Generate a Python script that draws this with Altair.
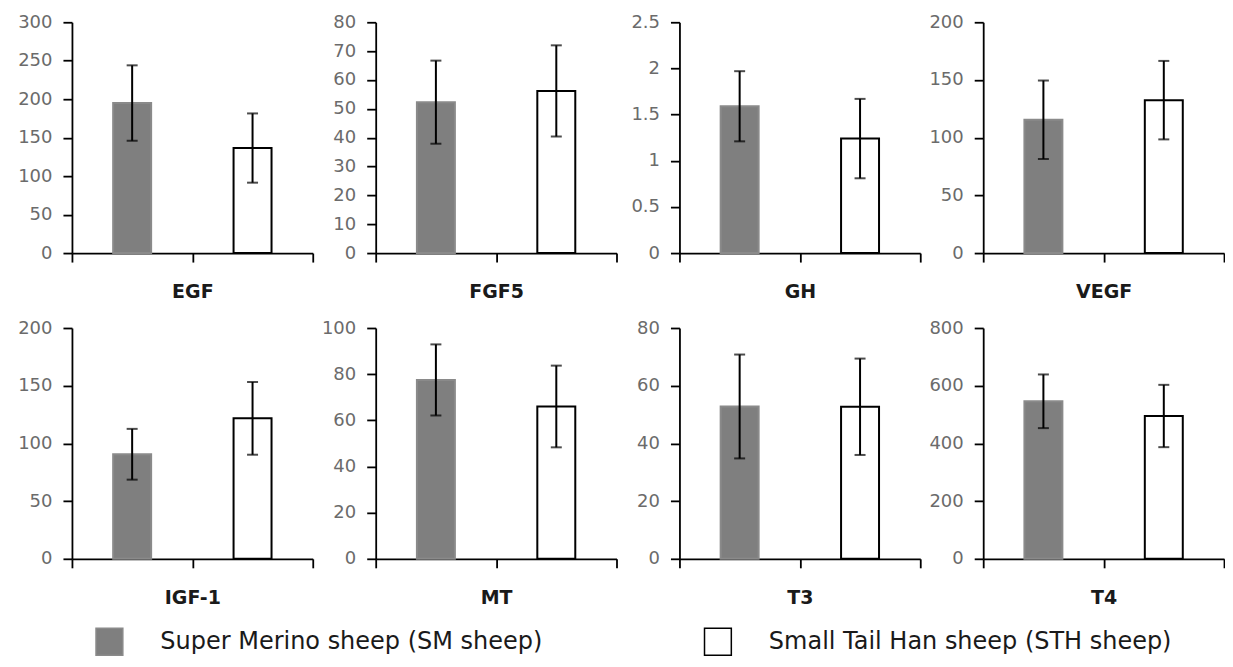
import altair as alt
import pandas as pd

# ---- data ----
genes = ["EGF", "FGF5", "GH", "VEGF", "IGF-1", "MT", "T3", "T4"]
groups = ["Super Merino sheep (SM sheep)", "Small Tail Han sheep (STH sheep)"]

sm_mean = [195, 52.3, 1.59, 115.5, 90.6, 77.5, 52.8, 546]
sm_err = [49, 14.4, 0.38, 34, 22, 15.4, 18, 93]
sth_mean = [136.5, 56.2, 1.24, 132.5, 121.7, 66, 52.7, 495]
sth_err = [45, 15.8, 0.43, 34, 31.5, 17.7, 16.7, 108]

y_ticks = [
    [0, 50, 100, 150, 200, 250, 300],
    [0, 10, 20, 30, 40, 50, 60, 70, 80],
    [0, 0.5, 1, 1.5, 2, 2.5],
    [0, 50, 100, 150, 200],
    [0, 50, 100, 150, 200],
    [0, 20, 40, 60, 80, 100],
    [0, 20, 40, 60, 80],
    [0, 200, 400, 600, 800],
]

rows = []
for i, g in enumerate(genes):
    for grp, m, e in ((groups[0], sm_mean[i], sm_err[i]), (groups[1], sth_mean[i], sth_err[i])):
        rows.append({"gene": g, "group": grp, "mean": m, "low": m - e, "high": m + e})
df = pd.DataFrame(rows)
legend_df = pd.DataFrame({"group": groups})

color_enc = alt.Color(
    "group:N",
    scale=alt.Scale(domain=groups, range=["#7f7f7f", "#ffffff"]),
    legend=None,
)
stroke_enc = alt.Stroke(
    "group:N",
    scale=alt.Scale(domain=groups, range=["#8a8a8a", "#000000"]),
    legend=None,
)


def panel(i):
    g = genes[i]
    base = alt.Chart(df).transform_filter(alt.datum.gene == g)
    xenc = alt.X(
        "group:N",
        sort=groups,
        scale=alt.Scale(domain=groups, paddingInner=0, paddingOuter=0),
        axis=alt.Axis(labels=False, tickBand="extent", title=g, titlePadding=20),
    )
    yscale = alt.Scale(domain=[0, y_ticks[i][-1]], nice=False)
    yaxis = alt.Axis(values=y_ticks[i], format="~f", minExtent=59, maxExtent=59,
                     labelOverlap=False, title=None)
    bars = base.mark_bar(width=38, strokeWidth=2).encode(
        x=xenc,
        y=alt.Y("mean:Q", scale=yscale, axis=yaxis, title=None),
        color=color_enc,
        stroke=stroke_enc,
    )
    rule = base.mark_rule(color="black", strokeWidth=2).encode(
        x=xenc, y=alt.Y("low:Q", scale=yscale, axis=yaxis, title=None), y2="high:Q"
    )
    cap_lo = base.mark_tick(color="black", orient="horizontal", size=11, thickness=2).encode(
        x=xenc, y=alt.Y("low:Q", scale=yscale, axis=yaxis, title=None)
    )
    cap_hi = base.mark_tick(color="black", orient="horizontal", size=11, thickness=2).encode(
        x=xenc, y=alt.Y("high:Q", scale=yscale, axis=yaxis, title=None)
    )
    return alt.layer(bars, rule, cap_lo, cap_hi).properties(width=241, height=231)


row1 = alt.hconcat(*[panel(i) for i in range(4)], spacing=3)
row2 = alt.hconcat(*[panel(i) for i in range(4, 8)], spacing=3)

# legend drawn as a small chart of its own (its origin lines up with the plot areas)
leg_x = alt.X(
    "group:N",
    scale=alt.Scale(type="point", domain=groups, range=[37.5, 646.5], padding=0),
    axis=None,
)
leg_sym = alt.Chart(legend_df).mark_square(size=720, opacity=1, filled=True, strokeWidth=1.5).encode(
    x=leg_x, y=alt.value(17), color=color_enc, stroke=stroke_enc
)
leg_txt = alt.Chart(legend_df).mark_text(
    align="left", baseline="middle", dx=51, fontSize=24, font="DejaVu Sans", color="#1a1a1a"
).encode(x=leg_x, y=alt.value(17), text="group:N")
legend_chart = alt.layer(leg_sym, leg_txt).properties(width=1100, height=31)

chart = (
    alt.vconcat(row1, row2, legend_chart, spacing=17)
    .resolve_scale(color="shared", stroke="shared")
    .properties(background="white", padding={"left": 5, "top": 5, "right": 0, "bottom": 0})
    .configure_view(strokeWidth=0)
    .configure_axis(
        grid=False,
        domainColor="black",
        domainWidth=1.8,
        tickColor="black",
        tickWidth=1.8,
        tickSize=9,
        labelFont="DejaVu Sans",
        labelFontSize=18,
        labelColor="#6b6b6b",
        labelPadding=11,
        titleFont="DejaVu Sans",
        titleFontSize=19,
        titleFontWeight="bold",
        titleColor="#1a1a1a",
    )
)

chart.save("out.html", embed_options={"renderer": "svg", "actions": False})
